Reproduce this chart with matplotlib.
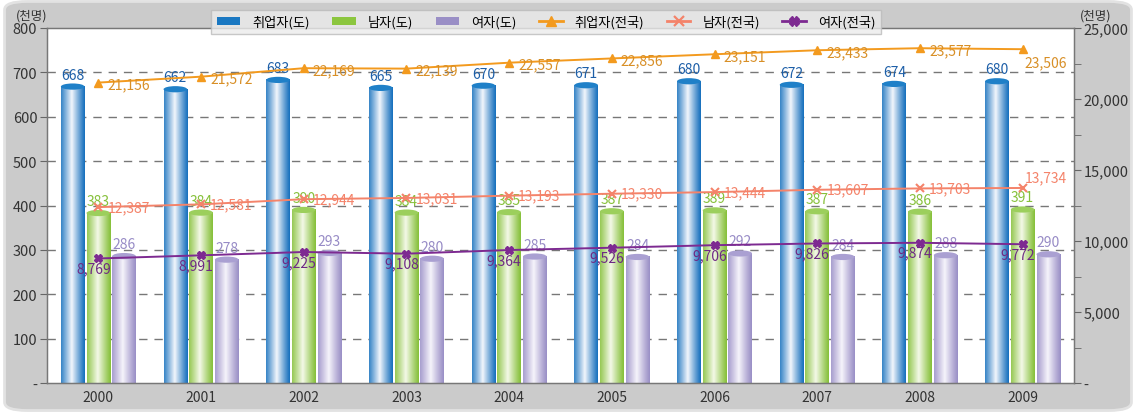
import matplotlib.pyplot as plt
import numpy as np
from matplotlib.patches import Ellipse, FancyBboxPatch, Patch
from matplotlib.lines import Line2D
from matplotlib.colors import to_rgb
from matplotlib.ticker import FixedLocator

plt.rcParams['font.family'] = ['Noto Sans CJK KR', 'DejaVu Sans']

years = ['2000', '2001', '2002', '2003', '2004', '2005', '2006', '2007', '2008', '2009']
# 도 (천명) - left axis
emp_do = [668, 662, 683, 665, 670, 671, 680, 672, 674, 680]
male_do = [383, 384, 390, 384, 385, 387, 389, 387, 386, 391]
female_do = [286, 278, 293, 280, 285, 284, 292, 284, 288, 290]
# 전국 (천명) - right axis
emp_nat = [21156, 21572, 22169, 22139, 22557, 22856, 23151, 23433, 23577, 23506]
male_nat = [12387, 12581, 12944, 13031, 13193, 13330, 13444, 13607, 13703, 13734]
female_nat = [8769, 8991, 9225, 9108, 9364, 9526, 9706, 9826, 9874, 9772]

W, H = 1136, 414
fig = plt.figure(figsize=(W / 100, H / 100), dpi=100)
fig.patch.set_facecolor('white')
bg = FancyBboxPatch((0.004, 0.006), 0.992, 0.988, boxstyle='round,pad=0,rounding_size=0.02',
                    transform=fig.transFigure, facecolor='#cbcbcb', edgecolor='#e2e2e2',
                    linewidth=2, zorder=-10)
fig.patches.append(bg)

ax = fig.add_axes([47 / W, 1 - 384 / H, (1074 - 47) / W, (384 - 29) / H])
ax.set_facecolor('white')
x = np.arange(len(years))
bw = 0.23
off = 0.25


def cyl(ax, xc, h, edge, mid, cap, zo=2):
    n = 64
    t = np.linspace(0, 1, n)
    # darker edges, bright band left of center
    prof = np.clip(1 - np.abs(t - 0.45) / 0.55, 0, 1) ** 1.1
    e = np.array(to_rgb(edge))
    m = np.array(to_rgb(mid))
    img = e[None, :] * (1 - prof[:, None]) + m[None, :] * prof[:, None]
    ax.imshow(img[None, :, :], extent=[xc - bw / 2, xc + bw / 2, 0, h],
              aspect='auto', zorder=zo, interpolation='bilinear')
    ax.add_patch(Ellipse((xc, h), bw, 14, facecolor=cap, edgecolor='none', zorder=zo + 0.1))


series = [
    (emp_do, -off, '#1670bd', '#f2f6fc', '#1f80c8', '#1d5fa8'),
    (male_do, 0, '#86c03a', '#f4f9e8', '#9ccf5c', '#86c03a'),
    (female_do, off, '#9a8fc6', '#f6f4fb', '#aaa0d2', '#978bc6'),
]
for vals, dx, edge, mid, cap, lc in series:
    for i, v in enumerate(vals):
        cyl(ax, x[i] + dx, v, edge, mid, cap)
        ax.annotate(str(v), (x[i] + dx, v), xytext=(0, 5), textcoords='offset pixels',
                    ha='center', va='bottom', color=lc, fontsize=10, zorder=5)

ax.set_xlim(-0.5, len(years) - 0.5)
ax.set_ylim(0, 800)
ax.set_yticks(range(0, 801, 100))
ax.set_yticklabels(['-'] + [str(v) for v in range(100, 801, 100)])
ax.set_xticks(x)
ax.set_xticklabels(years)
ax.tick_params(axis='x', length=0, pad=5, labelsize=10, colors='#333333')
ax.tick_params(axis='y', direction='out', length=5, labelsize=10.5, colors='#666666',
               labelcolor='#333333', pad=2)
for yv in range(100, 800, 100):
    ax.axhline(yv, color='#777777', lw=1, ls=(0, (6, 5)), zorder=1)
for s in ax.spines.values():
    s.set_color('#777777')
    s.set_linewidth(1)
fig.text(16 / W, 1 - 16 / H, '(천명)', ha='left', va='center', fontsize=9, color='#333333')

ax2 = ax.twinx()
ax2.set_ylim(0, 25000)
ax2.set_yticks(range(0, 25001, 5000))
ax2.set_yticklabels(['-'] + ['{:,}'.format(v) for v in range(5000, 25001, 5000)])
ax2.yaxis.set_minor_locator(FixedLocator(range(2500, 25000, 5000)))
ax2.tick_params(axis='y', which='major', direction='out', length=5, labelsize=10.5,
                colors='#666666', labelcolor='#333333', pad=2)
ax2.tick_params(axis='y', which='minor', direction='out', length=5, colors='#666666')
for s in ax2.spines.values():
    s.set_color('#777777')
fig.text(1080 / W, 1 - 16 / H, '(천명)', ha='left', va='center', fontsize=9, color='#333333')

ax2.plot(x, emp_nat, color='#f39a1e', lw=1.4, marker='^', ms=6, zorder=4)
ax2.plot(x, male_nat, color='#f4836a', lw=1.4, marker='x', ms=6, mew=1.5, zorder=4)
ax2.plot(x, female_nat, color='#7d2a91', lw=1.4, marker='X', ms=6, zorder=4)

for i in range(len(x)):
    last = i == len(x) - 1
    ax2.annotate('{:,}'.format(emp_nat[i]), (x[i], emp_nat[i]),
                 xytext=(2, -13) if last else (9, -2), textcoords='offset pixels',
                 ha='left', va='center', color='#d88f26', fontsize=10, zorder=6)
    ax2.annotate('{:,}'.format(male_nat[i]), (x[i], male_nat[i]),
                 xytext=(2, 11) if last else (9, 0), textcoords='offset pixels',
                 ha='left', va='center', color='#f4836a', fontsize=10, zorder=6)
    ax2.annotate('{:,}'.format(female_nat[i]), (x[i], female_nat[i]),
                 xytext=(-5, -10), textcoords='offset pixels',
                 ha='center', va='center', color='#6e2a84', fontsize=10, zorder=6)

handles = [
    Patch(facecolor='#1a78c2', edgecolor='none'),
    Patch(facecolor='#8cc63f', edgecolor='none'),
    Patch(facecolor='#9a8fc6', edgecolor='none'),
    Line2D([], [], color='#f39a1e', lw=2, marker='^', ms=7),
    Line2D([], [], color='#f4836a', lw=2, marker='x', ms=7, mew=1.6),
    Line2D([], [], color='#7d2a91', lw=2, marker='X', ms=7),
]
labels = ['취업자(도)', '남자(도)', '여자(도)', '취업자(전국)', '남자(전국)', '여자(전국)']
leg = fig.legend(handles, labels, loc='center', bbox_to_anchor=(546 / W, 1 - 23 / H),
                 ncol=6, fontsize=9.5, frameon=True, fancybox=False, handlelength=1.8,
                 handleheight=0.6, columnspacing=1.7, handletextpad=0.9,
                 borderpad=0.4, borderaxespad=0)
leg.get_frame().set_facecolor('#ebebeb')
leg.get_frame().set_edgecolor('#bbbbbb')
leg.set_zorder(20)

fig.savefig('out.png', dpi=100)
